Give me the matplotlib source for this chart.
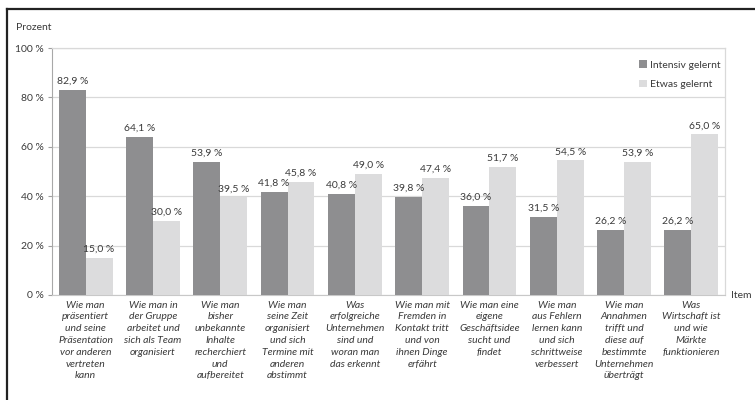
import matplotlib

matplotlib.use("Agg")
import matplotlib.pyplot as plt
import numpy as np
from matplotlib.lines import Line2D

items = [
    "Wie man\npräsentiert\nund seine\nPräsentation\nvor anderen\nvertreten\nkann",
    "Wie man in\nder Gruppe\narbeitet und\nsich als Team\norganisiert",
    "Wie man\nbisher\nunbekannte\nInhalte\nrecherchiert\nund\naufbereitet",
    "Wie man\nseine Zeit\norganisiert\nund sich\nTermine mit\nanderen\nabstimmt",
    "Was\nerfolgreiche\nUnternehmen\nsind und\nworan man\ndas erkennt",
    "Wie man mit\nFremden in\nKontakt tritt\nund von\nihnen Dinge\nerfährt",
    "Wie man eine\neigene\nGeschäftsidee\nsucht und\nfindet",
    "Wie man\naus Fehlern\nlernen kann\nund sich\nschrittweise\nverbessert",
    "Wie man\nAnnahmen\ntrifft und\ndiese auf\nbestimmte\nUnternehmen\nüberträgt",
    "Was\nWirtschaft ist\nund wie\nMärkte\nfunktionieren",
]
intensiv = [82.9, 64.1, 53.9, 41.8, 40.8, 39.8, 36.0, 31.5, 26.2, 26.2]
etwas = [15.0, 30.0, 39.5, 45.8, 49.0, 47.4, 51.7, 54.5, 53.9, 65.0]
yticks = [0, 20, 40, 60, 80, 100]

DARK = "#8e8e90"
LIGHT = "#dcdcdd"
TEXT = "#3a3a3a"
GRID = "#d9d9d9"
FS = 7.5

plt.rcParams["font.family"] = ["Lato", "DejaVu Sans"]


def pct(v):
    return f"{v:.1f}".replace(".", ",") + " %"


fig = plt.figure(figsize=(7.55, 4.0), dpi=100)
ax = fig.add_axes([52 / 755, 1 - 295 / 400, (725 - 52) / 755, (295 - 48) / 400])

x = np.arange(len(items)) + 0.5
w = 0.40
b1 = ax.bar(x - w / 2, intensiv, w, color=DARK, label="Intensiv gelernt", zorder=3)
b2 = ax.bar(x + w / 2, etwas, w, color=LIGHT, label="Etwas gelernt", zorder=3)

for bars, vals in ((b1, intensiv), (b2, etwas)):
    for bar, v in zip(bars, vals):
        ax.annotate(pct(v), (bar.get_x() + bar.get_width() / 2, v),
                    xytext=(0, 3), textcoords="offset points",
                    ha="center", va="bottom", fontsize=FS, color=TEXT)

ax.set_xlim(0, len(items))
ax.set_ylim(0, 100)
ax.set_yticks(yticks)
ax.set_yticklabels([f"{t} %" for t in yticks], fontsize=FS, color=TEXT)
ax.yaxis.grid(True, color=GRID, linewidth=0.9, zorder=0)
ax.tick_params(axis="y", length=3, width=0.8, color="#a0a0a0", pad=3)
ax.set_xticks(x)
ax.set_xticklabels(items, fontsize=FS, style="italic", color=TEXT, linespacing=1.4, va="top")
ax.tick_params(axis="x", length=0, pad=4)

for side in ("top", "right"):
    ax.spines[side].set_color(GRID)
    ax.spines[side].set_linewidth(0.9)
ax.spines["left"].set_color("#a8a8a8")
ax.spines["bottom"].set_color("#c8c8c8")

ax.legend(loc="upper left", bbox_to_anchor=(630 / 755, 1 - 51 / 400),
          bbox_transform=fig.transFigure, frameon=False, fontsize=FS,
          handlelength=0.7, handleheight=0.7, handletextpad=0.3,
          labelspacing=1.0, labelcolor=TEXT)

fig.text(16 / 755, 1 - 28 / 400, "Prozent", fontsize=FS, color=TEXT, va="center")
fig.text(731 / 755, 1 - 296 / 400, "Item", fontsize=FS, color=TEXT, va="center")

# outer frame (left and top edges only)
fig.add_artist(Line2D([7 / 755, 7 / 755], [0, 1 - 8.5 / 400], color="#222222", linewidth=1.6,
                      transform=fig.transFigure))
fig.add_artist(Line2D([7 / 755, 1], [1 - 8.5 / 400, 1 - 8.5 / 400], color="#222222", linewidth=1.6,
                      transform=fig.transFigure))

fig.savefig("out.png", dpi=100)
